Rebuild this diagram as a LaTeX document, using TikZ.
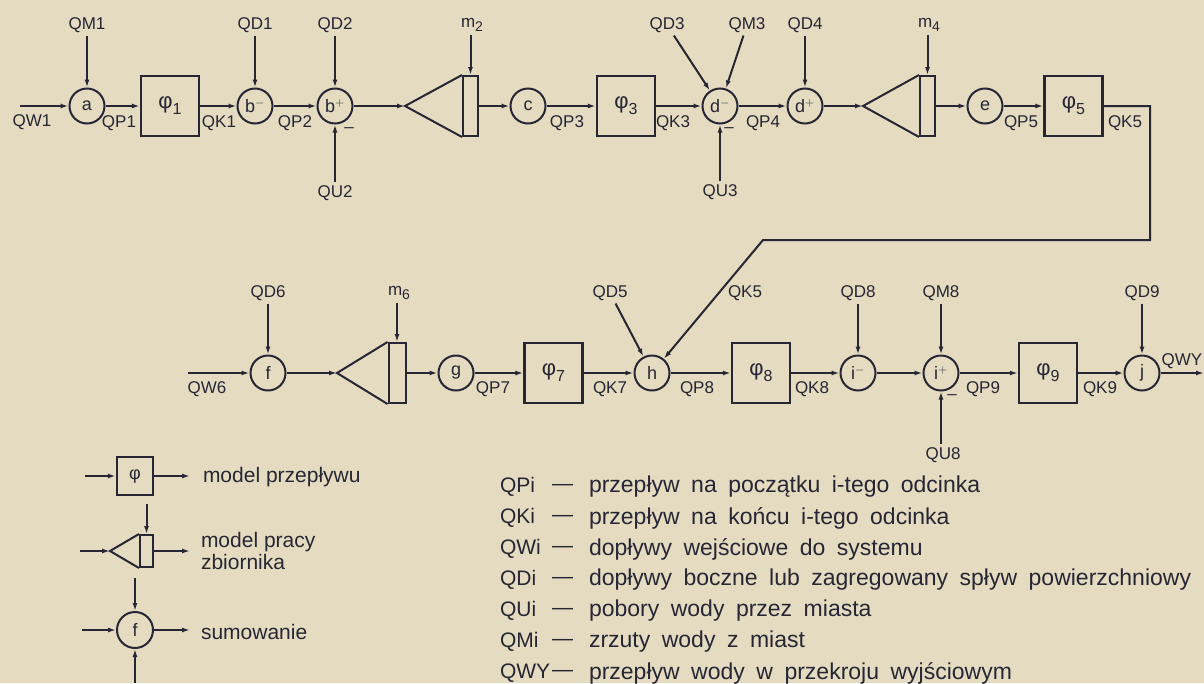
\documentclass[tikz,border=0pt]{standalone}
\usepackage{fontspec}
\setmainfont{Liberation Sans}
\usetikzlibrary{arrows.meta,calc,positioning}
\definecolor{paper}{RGB}{229,219,193}
\definecolor{ink}{RGB}{38,38,52}
\newcommand\widesp{\spaceskip=0.5em plus 0.1em\relax}
\newcommand\fsub[1]{φ\raisebox{-6pt}{\fontsize{16}{16}\selectfont#1}}
\newcommand\msub[1]{m\raisebox{-4pt}{\fontsize{14}{14}\selectfont#1}}

\begin{document}
\begin{tikzpicture}[x=1pt,y=-1pt,line width=2pt,color=ink,
  lbl/.style={font=\fontsize{17}{20}\selectfont,inner sep=2pt},
  sum/.style={circle,draw,minimum size=35pt,inner sep=0pt,font=\fontsize{18}{20}\selectfont},
  flow/.style={rectangle,draw,line width=2.4pt,minimum width=58pt,minimum height=60pt,inner sep=0pt,font=\fontsize{22}{24}\selectfont},
  tank/.style={rectangle,draw,minimum width=15pt,minimum height=60pt,inner sep=0pt},
  link/.style={-{Latex[length=8pt,width=5pt]}},
  legend/.style={font=\fontsize{21}{22}\selectfont,anchor=west,inner sep=0pt},
  code/.style={font=\fontsize{21}{24}\selectfont,anchor=west,inner sep=0pt},
  desc/.style={font=\fontsize{23}{28}\selectfont\widesp,anchor=west,inner sep=0pt}]
  \fill[paper] (0,0) rectangle (1204,683);
  \useasboundingbox (0,0) rectangle (1204,683);

  % upper chain
  \coordinate (w1) at (20,106);
  \node[lbl] (qw1) at (32,122) {QW1};
  \node[sum] (a) at (87,106) {a};
  \node[flow] (phi1) at (170,106) {\fsub{1}};
  \node[sum] (bm) at (255,106) {b$^-$};
  \node[sum] (bp) at (335,106) {b$^+$};
  \coordinate (t2) at (405,106);
  \node[tank] (r2) at (470.5,106) {};
  \node[sum] (c) at (528,106) {c};
  \node[flow] (phi3) at (626,106) {\fsub{3}};
  \node[sum] (dm) at (720,106) {d$^-$};
  \node[sum] (dp) at (805,106) {d$^+$};
  \coordinate (t4) at (863,106);
  \node[tank] (r4) at (927.5,106) {};
  \node[sum] (e) at (985,106) {e};
  \node[flow] (phi5) at (1073.5,106) {\fsub{5}};

  % flows along the upper chain
  \node[lbl] (qp1) at (119,123) {QP1};
  \node[lbl] (qk1) at (219,123) {QK1};
  \node[lbl] (qp2) at (295,123) {QP2};
  \node[lbl] (qp3) at (567,123) {QP3};
  \node[lbl] (qk3) at (673,123) {QK3};
  \node[lbl] (qp4) at (763,123) {QP4};
  \node[lbl] (qp5) at (1021,123) {QP5};
  \node[lbl] (qk5a) at (1125,123) {QK5};

  % side inputs, upper chain
  \node[lbl] (qm1) at (87,25) {QM1};
  \node[lbl] (qd1) at (255,25) {QD1};
  \node[lbl] (qd2) at (335,25) {QD2};
  \node[lbl] (qu2) at (335,193) {QU2};
  \node[lbl] (mi2) at (349,130) {–};
  \node[lbl] (m2) at (472,25) {\msub{2}};
  \node[lbl] (qd3) at (667,25) {QD3};
  \node[lbl] (qm3) at (747,25) {QM3};
  \node[lbl] (qu3) at (720,192) {QU3};
  \node[lbl] (mi3) at (729,130) {–};
  \node[lbl] (qd4) at (805,25) {QD4};
  \node[lbl] (m4) at (929,25) {\msub{4}};

  \draw[link] (w1) -- (a);
  \draw[link] (a) -- (phi1);
  \draw[link] (phi1) -- (bm);
  \draw[link] (bm) -- (bp);
  \draw[link] (bp) -- (t2);
  \draw (r2.north west) -- (t2) -- (r2.south west);
  \draw[link] (r2) -- (c);
  \draw[link] (c) -- (phi3);
  \draw[link] (phi3) -- (dm);
  \draw[link] (dm) -- (dp);
  \draw[link] (dp) -- (t4);
  \draw (r4.north west) -- (t4) -- (r4.south west);
  \draw[link] (r4) -- (e);
  \draw[link] (e) -- (phi5);

  \draw[link] (qm1) -- (a);
  \draw[link] (qd1) -- (bm);
  \draw[link] (qd2) -- (bp);
  \draw[link] (qu2) -- (bp);
  \draw[link] (m2.south -| r2.north) -- (r2);
  \draw[link] (qd3) -- (dm);
  \draw[link] (qm3) -- (dm);
  \draw[link] (qu3) -- (dm);
  \draw[link] (qd4) -- (dp);
  \draw[link] (m4.south -| r4.north) -- (r4);

  % lower chain
  \coordinate (w6) at (188,373);
  \node[lbl] (qw6) at (207,389) {QW6};
  \node[sum] (f) at (268,373) {f};
  \coordinate (t6) at (337,373);
  \node[tank,minimum width=17pt] (r6) at (397,373) {};
  \node[sum] (g) at (456,373) {g};
  \node[flow] (phi7) at (553.5,373) {\fsub{7}};
  \node[sum] (h) at (652,373) {h};
  \node[flow] (phi8) at (761,373) {\fsub{8}};
  \node[sum] (im) at (858,373) {i$^-$};
  \node[sum] (ip) at (941,373) {i$^+$};
  \node[flow] (phi9) at (1048,373) {\fsub{9}};
  \node[sum] (j) at (1142,373) {j};
  \coordinate (out) at (1204,373);
  \node[lbl,inner sep=1pt] (qwy) at (1182,361) {QWY};

  \node[lbl] (qp7) at (493,389) {QP7};
  \node[lbl] (qk7) at (610,389) {QK7};
  \node[lbl] (qp8) at (697,389) {QP8};
  \node[lbl] (qk8) at (812,389) {QK8};
  \node[lbl] (qp9) at (983,389) {QP9};
  \node[lbl] (qk9) at (1100,389) {QK9};

  \node[lbl] (qd6) at (268,293) {QD6};
  \node[lbl] (m6) at (399,293) {\msub{6}};
  \node[lbl] (qd5) at (610,293) {QD5};
  \node[lbl] (qk5b) at (745,293) {QK5};
  \node[lbl] (qd8) at (858,293) {QD8};
  \node[lbl] (qm8) at (941,293) {QM8};
  \node[lbl] (qu8) at (943,455) {QU8};
  \node[lbl] (mi8) at (952,397) {–};
  \node[lbl] (qd9) at (1142,293) {QD9};

  \draw[link] (w6) -- (f);
  \draw[link] (f) -- (t6);
  \draw (r6.north west) -- (t6) -- (r6.south west);
  \draw[link] (r6) -- (g);
  \draw[link] (g) -- (phi7);
  \draw[link] (phi7) -- (h);
  \draw[link] (h) -- (phi8);
  \draw[link] (phi8) -- (im);
  \draw[link] (im) -- (ip);
  \draw[link] (ip) -- (phi9);
  \draw[link] (phi9) -- (j);
  \draw[link] (j) -- (out);

  \draw[link] (qd6) -- (f);
  \draw[link] (m6.south -| r6.north) -- (r6);
  \draw[link] (qd5) -- (h);
  \draw[link] (qd8) -- (im);
  \draw[link] (qm8) -- (ip);
  \draw[link] (qu8.north -| ip.south) -- (ip);
  \draw[link] (qd9) -- (j);

  % QK5 carried down to node h
  \coordinate (fb1) at (1150,240);
  \coordinate (fb2) at (763,240);
  \draw[link] (phi5.east) -| (fb1) -- (fb2) -- (h);

  % legend
  \node[flow,minimum width=36pt,minimum height=38pt,font=\fontsize{18}{20}\selectfont] (lphi) at (135,476) {φ};
  \coordinate (lphiA) at (85,476);
  \coordinate (lphiB) at (190,476);
  \draw[link] (lphiA) -- (lphi);
  \draw[link] (lphi) -- (lphiB);
  \node[legend] (lphit) at (202,477) {model przepływu};

  \coordinate (ltA) at (80,551);
  \coordinate (lt) at (110,551);
  \node[tank,minimum width=13pt,minimum height=32pt] (lr) at (146.5,551) {};
  \coordinate (lrtop) at (146.5,504);
  \coordinate (lrB) at (190,551);
  \draw[link] (ltA) -- (lt);
  \draw (lr.north west) -- (lt) -- (lr.south west);
  \draw[link] (lrtop) -- (lr);
  \draw[link] (lr) -- (lrB);
  \node[legend,align=left] (lrt) at (200,551) {model pracy\\zbiornika};

  \node[sum,minimum size=36pt] (lf) at (135,630) {f};
  \coordinate (lfN) at (135,578);
  \coordinate (lfS) at (135,683);
  \coordinate (lfW) at (82,630);
  \coordinate (lfE) at (190,630);
  \draw[link] (lfN) -- (lf);
  \draw[link] (lfS) -- (lf);
  \draw[link] (lfW) -- (lf);
  \draw[link] (lf) -- (lfE);
  \node[legend] (lft) at (200,632) {sumowanie};

  % symbols
  \node[code] (q0) at (499,487) {QPi};
  \node[code] (q1) at (499,518) {QKi};
  \node[code] (q2) at (499,549) {QWi};
  \node[code] (q3) at (499,580) {QDi};
  \node[code] (q4) at (499,611) {QUi};
  \node[code] (q5) at (499,642) {QMi};
  \node[code] (q6) at (499,673) {QWY};
  \node[code] (s0) at (551,487) {—};
  \node[code] (s1) at (551,518) {—};
  \node[code] (s2) at (551,549) {—};
  \node[code] (s3) at (551,580) {—};
  \node[code] (s4) at (551,611) {—};
  \node[code] (s5) at (551,642) {—};
  \node[code] (s6) at (551,673) {—};
  \node[desc] (t0) at (588,487) {przepływ na początku i-tego odcinka};
  \node[desc] (t1) at (588,518) {przepływ na końcu i-tego odcinka};
  \node[desc] (t2) at (588,549) {dopływy wejściowe do systemu};
  \node[desc] (t3) at (588,580) {dopływy boczne lub zagregowany spływ powierzchniowy};
  \node[desc] (t4) at (588,611) {pobory wody przez miasta};
  \node[desc] (t5) at (588,642) {zrzuty wody z miast};
  \node[desc] (t6) at (588,673) {przepływ wody w przekroju wyjściowym};
\end{tikzpicture}
\end{document}
